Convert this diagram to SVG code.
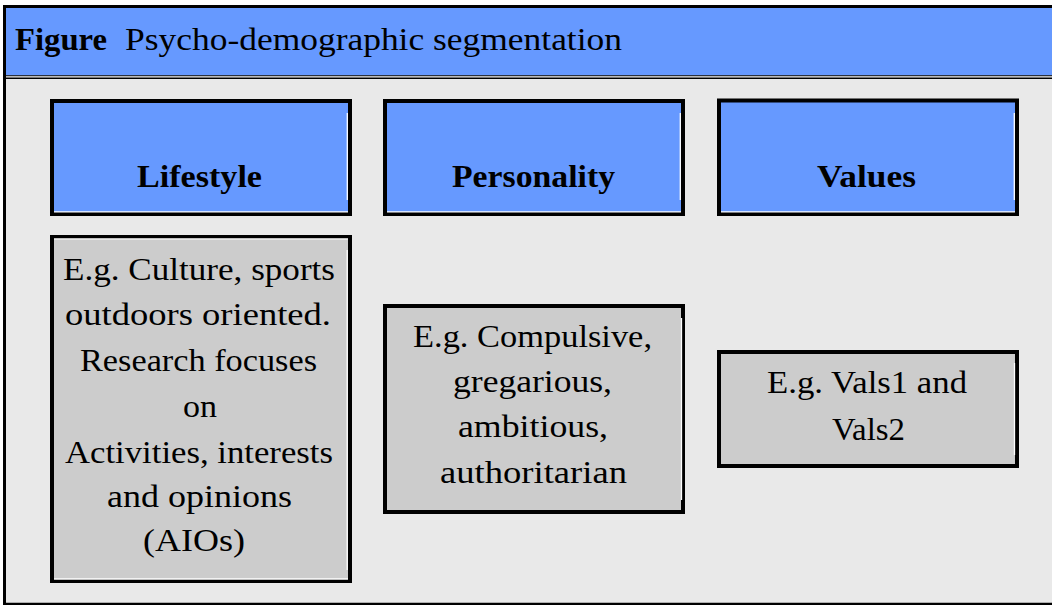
<svg xmlns="http://www.w3.org/2000/svg" width="1052" height="605" viewBox="0 0 1052 605">
  <style>
    .frame { fill: #e9e9e9; }
    .hbar { fill: #6699ff; }
    .head { fill: #6699ff; stroke: #000; stroke-width: 4; }
    .body { fill: #cccccc; stroke: #000; stroke-width: 4; }
    .hl { stroke: #fff; stroke-width: 1.3; fill: none; }
    .blk { stroke: #000; fill: none; }
    text { font-family: "Liberation Serif", "Times New Roman", serif; fill: #000; }
    .title { font-size: 31px; }
    .lbl { font-size: 32px; font-weight: bold; text-anchor: middle; }
    .txt { font-size: 32px; text-anchor: middle; }
  </style>

  <g id="frame">
    <rect x="0" y="0" width="1052" height="605" fill="#ffffff"/>
    <rect class="frame" x="4.5" y="6.5" width="1060" height="597"/>
    <rect class="hbar" x="6" y="8" width="1046" height="67.5"/>
    <line class="blk" x1="6" y1="75.8" x2="1052" y2="75.8" stroke-width="1.2"/>
    <line x1="6" y1="77" x2="1052" y2="77" stroke="#fff" stroke-width="1.2"/>
    <line class="blk" x1="6" y1="78.3" x2="1052" y2="78.3" stroke-width="1.6"/>
    <line class="blk" x1="4.5" y1="5" x2="4.5" y2="605" stroke-width="3"/>
    <line class="blk" x1="3" y1="6.5" x2="1052" y2="6.5" stroke-width="3"/>
    <line class="blk" x1="3" y1="604" x2="1052" y2="604" stroke-width="2.4"/>
  </g>

  <g id="title">
    <text class="title" x="15" y="50" font-weight="bold" textLength="92" lengthAdjust="spacingAndGlyphs">Figure</text>
    <text class="title" x="125" y="50" textLength="497" lengthAdjust="spacingAndGlyphs">Psycho-demographic segmentation</text>
  </g>

  <g id="lifestyle-header">
    <rect class="head" x="52" y="101" width="298" height="113"/>
    <line class="hl" x1="54" y1="211.8" x2="348" y2="211.8"/>
    <line class="hl" x1="347.3" y1="113" x2="347.3" y2="200"/>
    <text class="lbl" x="199.5" y="187" textLength="125" lengthAdjust="spacingAndGlyphs">Lifestyle</text>
  </g>

  <g id="personality-header">
    <rect class="head" x="385" y="101" width="298" height="113"/>
    <line class="hl" x1="387" y1="211.8" x2="681" y2="211.8"/>
    <line class="hl" x1="680.3" y1="113" x2="680.3" y2="200"/>
    <text class="lbl" x="533.5" y="187" textLength="163" lengthAdjust="spacingAndGlyphs">Personality</text>
  </g>

  <g id="values-header">
    <rect class="head" x="719" y="100.5" width="298" height="113.5"/>
    <line class="hl" x1="721" y1="211.8" x2="1015" y2="211.8"/>
    <line class="hl" x1="1014.3" y1="113" x2="1014.3" y2="200"/>
    <text class="lbl" x="866.5" y="187" textLength="99" lengthAdjust="spacingAndGlyphs">Values</text>
  </g>

  <g id="lifestyle-body">
    <rect class="body" x="52" y="237" width="298" height="344"/>
    <line class="hl" x1="54" y1="238.8" x2="348" y2="238.8"/>
    <line class="hl" x1="54" y1="579" x2="348" y2="579"/>
    <line class="hl" x1="347.2" y1="250" x2="347.2" y2="570"/>
    <text class="txt" x="199" y="280" textLength="272" lengthAdjust="spacingAndGlyphs">E.g. Culture, sports</text>
    <text class="txt" x="198" y="325" textLength="266" lengthAdjust="spacingAndGlyphs">outdoors oriented.</text>
    <text class="txt" x="198.5" y="371" textLength="237" lengthAdjust="spacingAndGlyphs">Research focuses</text>
    <text class="txt" x="200" y="417" textLength="34" lengthAdjust="spacingAndGlyphs">on</text>
    <text class="txt" x="199" y="463" textLength="268" lengthAdjust="spacingAndGlyphs">Activities, interests</text>
    <text class="txt" x="199.5" y="507" textLength="185" lengthAdjust="spacingAndGlyphs">and opinions</text>
    <text class="txt" x="194" y="551" textLength="102" lengthAdjust="spacingAndGlyphs">(AIOs)</text>
  </g>

  <g id="personality-body">
    <rect class="body" x="385" y="306" width="298" height="206"/>
    <line class="hl" x1="681.5" y1="318" x2="681.5" y2="500"/>
    <text class="txt" x="532.5" y="347" textLength="239" lengthAdjust="spacingAndGlyphs">E.g. Compulsive,</text>
    <text class="txt" x="532.5" y="392" textLength="159" lengthAdjust="spacingAndGlyphs">gregarious,</text>
    <text class="txt" x="533" y="437" textLength="150" lengthAdjust="spacingAndGlyphs">ambitious,</text>
    <text class="txt" x="533.5" y="483" textLength="187" lengthAdjust="spacingAndGlyphs">authoritarian</text>
  </g>

  <g id="values-body">
    <rect class="body" x="719" y="352" width="298" height="114"/>
    <line class="hl" x1="1014.5" y1="363" x2="1014.5" y2="455"/>
    <text class="txt" x="867" y="393" textLength="200" lengthAdjust="spacingAndGlyphs">E.g. Vals1 and</text>
    <text class="txt" x="868.5" y="440" textLength="73" lengthAdjust="spacingAndGlyphs">Vals2</text>
  </g>

  <g id="connectors"></g>
</svg>
